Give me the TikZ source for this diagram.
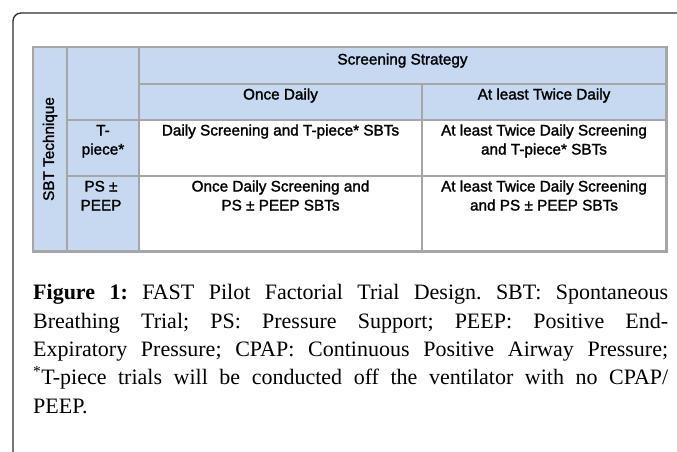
\documentclass[tikz,border=0pt]{standalone}
\usepackage{fontspec}
\setmainfont{Liberation Serif}
\newfontfamily\tabfont[FakeBold=1.6]{Liberation Sans}
\definecolor{cellblue}{HTML}{C6D9F1}
\definecolor{gridgray}{HTML}{A6A6A6}
\definecolor{framegray}{HTML}{2B2B2B}
\begin{document}
\frenchspacing
\begin{tikzpicture}[x=1pt,y=-1pt,
  cell/.style={font=\tabfont\fontsize{15.3}{19}\selectfont, align=center, anchor=base, inner sep=0pt},
  capline/.style={font=\fontsize{22}{28}\selectfont, anchor=base west, inner sep=0pt},
  grid/.style={draw=gridgray, line width=2pt},
  outer/.style={draw=gridgray, line width=3pt}]
\useasboundingbox (0,0) rectangle (677,452);
% outer frame
\draw[framegray, line width=1.3pt, rounded corners=8pt] (13,452) -- (13,13) -- (677,13);
% fills
\fill[cellblue] (33,47) rectangle (666,120);
\fill[cellblue] (33,47) rectangle (139,251);
% grid
\draw[grid] (33,251) -- (33,47) -- (666,47);
\draw[grid] (66.5,47) -- (66.5,251);
\draw[grid] (139,47) -- (139,251);
\draw[grid] (422,84) -- (422,251);
\draw[grid] (139,84) -- (666,84);
\draw[grid] (66.5,120) -- (666,120);
\draw[grid] (66.5,176) -- (666,176);
\draw[outer] (666,46) -- (666,251) -- (32,251);
% table text (multi-line nodes: base = baseline of last line)
\node[cell] (ss) at (402.5,64.5) {Screening Strategy};
\node[cell] (od) at (280.5,99.5) {Once Daily};
\node[cell] (tw) at (544,99.5) {At least Twice Daily};
\node[cell] (tp) at (103,154.5) {T-\\piece*};
\node[cell] (r1a) at (280.5,135.5) {Daily Screening and T-piece* SBTs};
\node[cell] (r1b) at (544,154.5) {At least Twice Daily Screening\\and T-piece* SBTs};
\node[cell] (ps) at (101,210.5) {PS ±\\PEEP};
\node[cell] (r2a) at (280.5,210.5) {Once Daily Screening and\\PS ± PEEP SBTs};
\node[cell] (r2b) at (544,210.5) {At least Twice Daily Screening\\and PS ± PEEP SBTs};
\node[cell, rotate=90, anchor=center] (sbt) at (50,149) {SBT Technique};
% caption
\node[capline] (c1) at (33,299.5) {\makebox[635pt][s]{\textbf{Figure 1:} FAST Pilot Factorial Trial Design. SBT: Spontaneous}};
\node[capline] (c2) at (33,328) {\makebox[635pt][s]{Breathing Trial; PS: Pressure Support; PEEP: Positive End-}};
\node[capline] (c3) at (33,356.5) {\makebox[635pt][s]{Expiratory Pressure; CPAP: Continuous Positive Airway Pressure;}};
\node[capline] (c4) at (33,384.5) {\makebox[635pt][s]{\textsuperscript{*}T-piece trials will be conducted off the ventilator with no CPAP/}};
\node[capline] (c5) at (33,413) {PEEP.};
\end{tikzpicture}
\end{document}
